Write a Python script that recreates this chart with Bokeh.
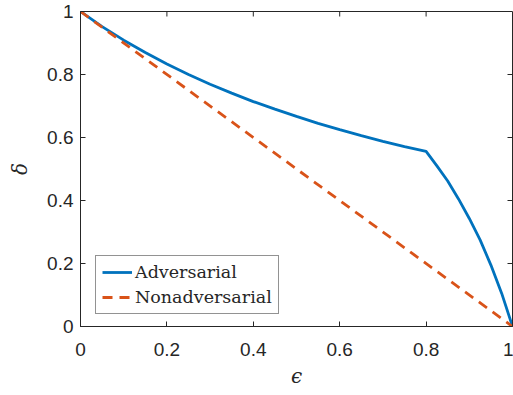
import math
from bokeh.plotting import figure
from bokeh.models import Range1d, FixedTicker, Legend, LegendItem
from bokeh.embed import file_html
from bokeh.resources import INLINE

eps_adv = [0.0, 0.05, 0.1, 0.15, 0.2, 0.25, 0.3, 0.35, 0.4, 0.45, 0.5, 0.55, 0.6,
           0.65, 0.7, 0.75, 0.8, 0.825, 0.85, 0.875, 0.9, 0.925, 0.95, 0.975, 1.0]
delta_adv = [1.0, 0.952, 0.909, 0.870, 0.833, 0.800, 0.769, 0.741, 0.714, 0.690, 0.667,
             0.645, 0.625, 0.606, 0.588, 0.571, 0.556, 0.510, 0.462, 0.405, 0.343,
             0.275, 0.195, 0.105, 0.0]
eps_non = [0.0, 1.0]
delta_non = [1.0, 0.0]
ticks = [0, 0.2, 0.4, 0.6, 0.8, 1]
tick_labels = {0: "0", 0.2: "0.2", 0.4: "0.4", 0.6: "0.6", 0.8: "0.8", 1: "1"}

AX = "#262626"
p = figure(width=513, height=395, output_backend="svg", toolbar_location=None,
           x_range=Range1d(0, 1), y_range=Range1d(0, 1),
           min_border_left=80, min_border_top=11, min_border_bottom=69, min_border_right=1)
p.grid.visible = False
p.outline_line_color = AX
p.outline_line_width = 1
p.background_fill_color = "white"
p.border_fill_color = "white"

for ax in [p.xaxis[0], p.yaxis[0]]:
    ax.ticker = FixedTicker(ticks=ticks)
    ax.major_label_overrides = tick_labels
    ax.major_tick_in = 5
    ax.major_tick_out = 0
    ax.minor_tick_line_color = None
    ax.axis_line_color = AX
    ax.major_tick_line_color = AX
    ax.major_label_text_font = "Liberation Sans"
    ax.major_label_text_font_size = "19px"
    ax.major_label_text_color = AX
    ax.axis_label_text_font = "DejaVu Serif"
    ax.axis_label_text_font_style = "italic"
    ax.axis_label_text_font_size = "20px"
    ax.axis_label_text_color = AX

p.xaxis.axis_label = "\u03f5"
p.yaxis.axis_label = "\u03b4"
p.xaxis.major_label_standoff = 16
p.yaxis.major_label_standoff = 7
p.xaxis.axis_label_standoff = 5
p.yaxis.axis_label_standoff = 12

# inward ticks on the top and right edges of the box
inner = ticks[1:-1]
p.scatter(inner, [1] * len(inner), marker="dash", size=10, angle=math.pi / 2,
          line_color=AX, line_width=1)
p.scatter([1] * len(inner), inner, marker="dash", size=10,
          line_color=AX, line_width=1)

r_adv = p.line(eps_adv, delta_adv, line_color="#0072BD", line_width=2.8)
r_non = p.line(eps_non, delta_non, line_color="#D95319", line_width=2.8, line_dash="10 7")

legend = Legend(items=[LegendItem(label="Adversarial", renderers=[r_adv]),
                       LegendItem(label="Nonadversarial", renderers=[r_non])],
                location=(15, 12))
legend.label_text_font = "DejaVu Serif"
legend.label_text_font_size = "17.5px"
legend.label_text_color = AX
legend.border_line_color = AX
legend.border_line_width = 1
legend.glyph_width = 30
legend.glyph_height = 20
legend.label_height = 20
legend.spacing = 5
legend.padding = 6
legend.margin = 0
legend.label_standoff = 3
legend.background_fill_alpha = 1
p.add_layout(legend, "center")

open("out.html", "w").write(file_html(p, INLINE))
